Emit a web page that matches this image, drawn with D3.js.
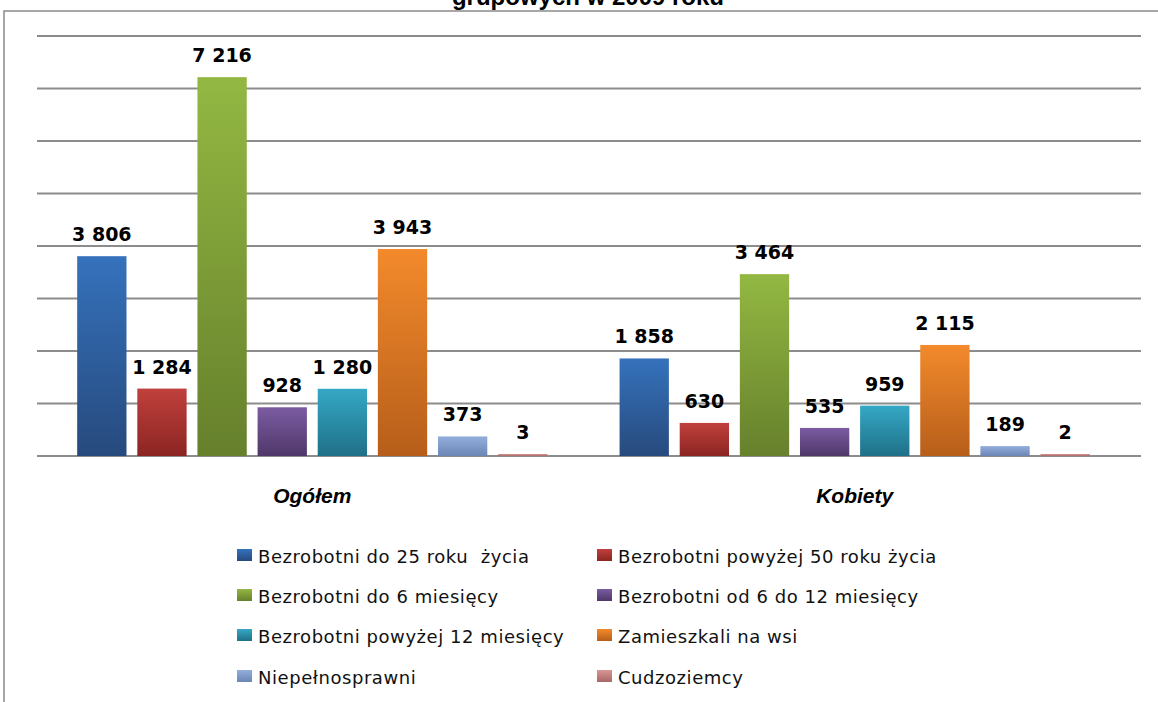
<!DOCTYPE html>
<html>
<head>
<meta charset="utf-8">
<script src="https://cdn.jsdelivr.net/npm/d3@7"></script>
<style>
  html, body { margin: 0; padding: 0; background: #fff; overflow: hidden; }
  svg { display: block; }
</style>
</head>
<body>
<svg id="chart" width="1158" height="702"></svg>
<script>
// ---- data ----
const titleLine = "grupowych w 2009 roku";
const groups = ["Ogółem", "Kobiety"];
const seriesNames = [
  "Bezrobotni do 25 roku  życia",
  "Bezrobotni powyżej 50 roku życia",
  "Bezrobotni do 6 miesięcy",
  "Bezrobotni od 6 do 12 miesięcy",
  "Bezrobotni powyżej 12 miesięcy",
  "Zamieszkali na wsi",
  "Niepełnosprawni",
  "Cudzoziemcy"
];
const valuesOgolem = [3806, 1284, 7216, 928, 1280, 3943, 373, 3];
const valuesKobiety = [1858, 630, 3464, 535, 959, 2115, 189, 2];
const yTicks = [0, 1000, 2000, 3000, 4000, 5000, 6000, 7000, 8000];
const colorsTop = ["#3572BC", "#C0403C", "#93B842", "#7B5CA2", "#35A8C6", "#F38A2C", "#94AEDC", "#D99593"];
const colorsBottom = ["#274A7D", "#8B2522", "#66802C", "#4F3769", "#1F7087", "#B65E1A", "#6B85B5", "#A86866"];

const seriesValues = [valuesOgolem, valuesKobiety];

const svg = d3.select("#chart");
const defs = svg.append("defs");
seriesNames.forEach((s, i) => {
  const g = defs.append("linearGradient").attr("id", "grad" + i)
    .attr("x1", 0).attr("y1", 0).attr("x2", 0).attr("y2", 1);
  g.append("stop").attr("offset", "0%").attr("stop-color", colorsTop[i]);
  g.append("stop").attr("offset", "100%").attr("stop-color", colorsBottom[i]);
});

// frame (chart area border, clipped by page edges)
svg.append("rect").attr("x", 4).attr("y", 11).attr("width", 1200).attr("height", 760)
  .attr("fill", "none").attr("stroke", "#8a8a8a").attr("stroke-width", 1.5);

// title (only its lower part is visible, as in the reference)
svg.append("text").attr("x", 588).attr("y", 5).attr("text-anchor", "middle")
  .attr("font-family", "Liberation Sans, Arial, sans-serif").attr("font-weight", "bold")
  .attr("font-size", 24).attr("fill", "#000").text(titleLine);

// scales
const y = d3.scaleLinear().domain([0, 8000]).range([456, 36]);
const x0 = d3.scaleBand().domain(groups).range([41, 1126]).paddingInner(0.133).paddingOuter(0.0667);
const x1 = d3.scaleBand().domain(d3.range(seriesNames.length)).range([0, x0.bandwidth()]).paddingInner(0.18).paddingOuter(0);

// gridlines
const gridLeft = 37, gridRight = 1141;
svg.append("g").selectAll("line").data(yTicks).join("line")
  .attr("x1", gridLeft).attr("x2", gridRight)
  .attr("y1", d => y(d)).attr("y2", d => y(d))
  .attr("stroke", "#8c8c8c").attr("stroke-width", 2);

// bars
const gGroups = svg.append("g").selectAll("g").data(groups).join("g")
  .attr("transform", d => `translate(${x0(d)},0)`);

gGroups.each(function (grp, gi) {
  const vals = seriesValues[gi];
  const sel = d3.select(this);
  sel.selectAll("rect").data(vals).join("rect")
    .attr("x", (d, i) => x1(i))
    .attr("width", x1.bandwidth())
    .attr("y", d => Math.min(y(d), y(0) - 2))
    .attr("height", d => y(0) - Math.min(y(d), y(0) - 2))
    .attr("fill", (d, i) => `url(#grad${i})`);
  sel.selectAll("text.val").data(vals).join("text").attr("class", "val")
    .attr("x", (d, i) => x1(i) + x1.bandwidth() / 2)
    .attr("y", d => Math.min(y(d), y(0) - 2) - 15)
    .attr("text-anchor", "middle")
    .attr("font-family", "DejaVu Sans, Verdana, sans-serif")
    .attr("font-weight", "bold").attr("font-size", 19).attr("fill", "#000")
    .text(d => d3.format(",")(d).replace(/,/g, " "));
});

// category labels
svg.append("g").selectAll("text").data(groups).join("text")
  .attr("x", d => x0(d) + x0.bandwidth() / 2)
  .attr("y", 503)
  .attr("text-anchor", "middle")
  .attr("font-family", "Liberation Sans, Arial, sans-serif")
  .attr("font-weight", "bold").attr("font-style", "italic").attr("font-size", 21)
  .attr("fill", "#000").text(d => d);

// legend
const legendColX = [237, 597];
const legendRowY = [563, 603, 643, 684];
const leg = svg.append("g").selectAll("g").data(seriesNames).join("g")
  .attr("transform", (d, i) => `translate(${legendColX[i % 2]},${legendRowY[Math.floor(i / 2)]})`);
leg.append("rect").attr("x", 0).attr("y", -14).attr("width", 15).attr("height", 12)
  .attr("fill", (d, i) => `url(#grad${i})`);
leg.append("text").attr("x", 21).attr("y", 0)
  .attr("font-family", "DejaVu Sans, Verdana, sans-serif").attr("font-size", 18)
  .attr("letter-spacing", 0.55)
  .attr("fill", "#111").attr("xml:space", "preserve").style("white-space", "pre")
  .text(d => d);
</script>
</body>
</html>
